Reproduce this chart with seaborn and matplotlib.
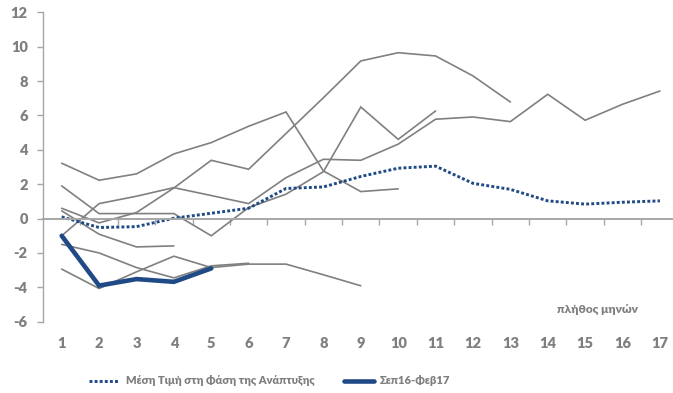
import numpy as np
import pandas as pd
import seaborn as sns
import matplotlib.pyplot as plt
from matplotlib import font_manager as fm
from matplotlib.ticker import FixedLocator

# Months since the start of each growth phase
months = list(range(1, 18))

# Individual past growth phases (annual % change), each of its own length
phase_a = [3.22, 2.23, 2.6, 3.76, 4.42, 5.37, 6.2, 2.77, 1.57, 1.73]
phase_b = [0.6, -0.25, 0.35, 1.78, 3.39, 2.87, 4.95, 7.03, 9.17, 9.65, 9.46, 8.30, 6.78]
phase_c = [1.9, 0.29, 0.29, 0.29, -1.0, 0.64, 1.42, 2.73, 6.49, 4.61, 6.26]
phase_d = [-1.0, 0.87, 1.3, 1.8, 1.34, 0.87, 2.38, 3.45, 3.39, 4.33, 5.78, 5.91,
           5.64, 7.23, 5.72, 6.65, 7.42]
phase_e = [0.45, -0.91, -1.65, -1.59]
phase_f = [-1.5, -2.0, -2.85, -3.45, -2.75, -2.6]
phase_g = [-2.94, -4.07, -3.1, -2.19, -2.85, -2.65, -2.65, -3.27, -3.91]

# Average over the growth phases
phase_mean = [0.1, -0.52, -0.47, 0.02, 0.31, 0.6, 1.75, 1.84, 2.45, 2.93, 3.05,
              2.05, 1.7, 1.03, 0.84, 0.95, 1.03]

# Current episode
current = [-1.0, -3.9, -3.52, -3.68, -2.9]

label_mean = "Μέση Τιμή στη Φάση της Ανάπτυξης"
label_current = "Σεπ16-Φεβ17"
axis_note = "πλήθος μηνών"
y_ticks = [-6, -4, -2, 0, 2, 4, 6, 8, 10, 12]

phases = [phase_a, phase_b, phase_c, phase_d, phase_e, phase_f, phase_g]
hist = pd.DataFrame(
    [(i, months[k], v) for i, p in enumerate(phases) for k, v in enumerate(p)],
    columns=["phase", "month", "value"],
)
mean_df = pd.DataFrame({"month": months, "value": phase_mean})
cur_df = pd.DataFrame({"month": months[:len(current)], "value": current})

sns.set_theme(style="white")
plt.rcParams["font.family"] = "Lato"
plt.rcParams["axes.unicode_minus"] = False


def lato_face(size, weight=800):
    """A Lato face of the given weight, loaded from its file."""
    cands = [f for f in fm.fontManager.ttflist
             if f.name == "Lato" and f.weight == weight and f.style == "normal"]
    if cands:
        return fm.FontProperties(fname=cands[0].fname, size=size)
    return fm.FontProperties(family="Lato", weight="bold", size=size)


GREY_TXT = "#7f7f7f"
GREY_LINE = "#808080"
AXIS_GREY = "#a6a6a6"
BLUE = "#1f4a85"

fig = plt.figure(figsize=(6.73, 3.93), dpi=100)
ax = fig.add_axes([43 / 673, 1 - 321.7 / 393, 1 - 43 / 673, (321.7 - 12.3) / 393])

sns.lineplot(data=hist, x="month", y="value", units="phase", estimator=None,
             color=GREY_LINE, linewidth=1.2, legend=False, ax=ax)
sns.lineplot(data=mean_df, x="month", y="value", color=BLUE, linewidth=2.1,
             linestyle=(0, (1, 0.75)), label=label_mean, ax=ax)
sns.lineplot(data=cur_df, x="month", y="value", color=BLUE, linewidth=3.3,
             label=label_current, ax=ax)
for ln in ax.get_lines():
    ln.set_solid_joinstyle("miter")

ax.set_xlim(0.5, 17.35)
ax.set_ylim(-6, 12)
ax.set_xlabel("")
ax.set_ylabel("")

# Category axis crosses at zero, labels sit low
ax.spines["bottom"].set_position(("data", 0))
ax.spines["bottom"].set_color(AXIS_GREY)
ax.spines["bottom"].set_linewidth(1.4)
ax.spines["left"].set_color(AXIS_GREY)
ax.spines["left"].set_linewidth(1.0)
ax.spines["top"].set_visible(False)
ax.spines["right"].set_visible(False)

tick_fp = lato_face(10.5, 800)
ax.set_xticks(months)
ax.set_xticklabels([str(m) for m in months], fontproperties=tick_fp)
ax.xaxis.set_minor_locator(FixedLocator(np.arange(1.5, 17.5, 1.0)))
ax.tick_params(axis="x", which="major", length=0, pad=85, labelcolor=GREY_TXT)
ax.tick_params(axis="x", which="minor", direction="out", length=4, width=1,
               color=AXIS_GREY, bottom=True)
ax.set_yticks(y_ticks)
ax.set_yticklabels([str(v) for v in y_ticks], fontproperties=tick_fp)
ax.tick_params(axis="y", direction="out", length=4, width=1, color=AXIS_GREY,
               pad=7, labelcolor=GREY_TXT, left=True)

ax.text(15.33, -5.31, axis_note, ha="center", va="center",
        fontproperties=lato_face(8.6, 800), color=GREY_TXT)

handles, labels = ax.get_legend_handles_labels()
ax.get_legend().remove()
fig.legend(handles, labels, loc="center", bbox_to_anchor=(270 / 673, 1 - 381 / 393),
           ncol=2, frameon=False, handlelength=2.7, columnspacing=2.6,
           handletextpad=0.6, prop=lato_face(8.0, 800), labelcolor=GREY_TXT)

fig.savefig("out.png", dpi=100)
